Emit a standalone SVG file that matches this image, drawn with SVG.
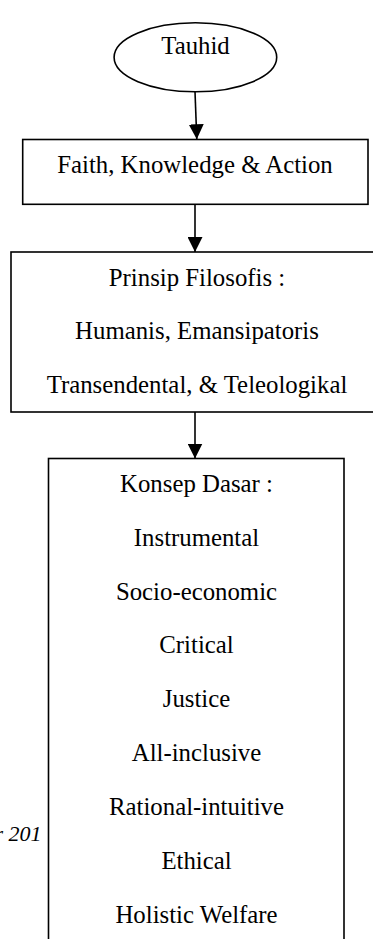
<svg xmlns="http://www.w3.org/2000/svg" width="373" height="939" viewBox="0 0 373 939">
<style>
.box{fill:#fff;stroke:#000;stroke-width:1.6}
.t{font-family:"Liberation Serif","Times New Roman",serif;font-size:24.8px;fill:#000;text-anchor:middle}
.conn{stroke:#000;stroke-width:1.6;fill:none}
.note{font-family:"Liberation Serif","Times New Roman",serif;font-size:22px;font-style:italic;fill:#000;text-anchor:end}
</style>
<defs>
<marker id="ah" markerWidth="15" markerHeight="15" refX="15" refY="7.5" orient="auto" markerUnits="userSpaceOnUse">
<path d="M0,0 L15,7.5 L0,15 Z" fill="#000"/>
</marker>
</defs>
<rect width="373" height="939" fill="#fff"/>
<g id="note"><text class="note" x="41.5" y="841">r 201</text></g>
<g id="tauhid">
<ellipse class="box" cx="195.4" cy="57.3" rx="81.3" ry="34.5"/>
<text class="t" x="195.5" y="54">Tauhid</text>
</g>
<g id="faith">
<rect class="box" x="22.7" y="139.5" width="345.3" height="64.8"/>
<text class="t" x="195" y="173">Faith, Knowledge &amp; Action</text>
</g>
<g id="prinsip">
<rect class="box" x="11" y="252" width="364" height="160"/>
<text class="t" x="197" y="286">Prinsip Filosofis :</text>
<text class="t" x="197" y="338.5">Humanis, Emansipatoris</text>
<text class="t" x="197" y="392.5">Transendental, &amp; Teleologikal</text>
</g>
<g id="konsep">
<rect class="box" x="48.5" y="458.5" width="295.5" height="500"/>
<text class="t" x="196.5" y="491.7">Konsep Dasar :</text>
<text class="t" x="196.5" y="545.7">Instrumental</text>
<text class="t" x="196.5" y="599.5">Socio-economic</text>
<text class="t" x="196.5" y="653">Critical</text>
<text class="t" x="196.5" y="707">Justice</text>
<text class="t" x="196.5" y="761">All-inclusive</text>
<text class="t" x="196.5" y="815">Rational-intuitive</text>
<text class="t" x="196.5" y="868.5">Ethical</text>
<text class="t" x="196.5" y="922.5">Holistic Welfare</text>
</g>
<g id="connectors">
<path class="conn" d="M195,91.8 L196.8,139.3" marker-end="url(#ah)"/>
<path class="conn" d="M195,204.3 L195,252" marker-end="url(#ah)"/>
<path class="conn" d="M195,412 L195,458.5" marker-end="url(#ah)"/>
</g>
</svg>
